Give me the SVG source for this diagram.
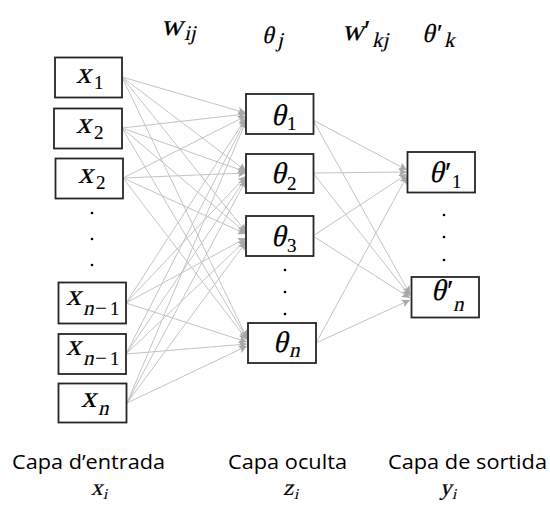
<svg xmlns="http://www.w3.org/2000/svg" width="550" height="505" viewBox="0 0 550 505">
  <defs>
    <marker id="arrow" markerUnits="userSpaceOnUse" markerWidth="10" markerHeight="10" refX="9" refY="5" orient="auto">
      <path d="M1,1 L9,5 L1,9 L2.6,5 Z" fill="#a8a8a8"/>
    </marker>
    <style>
      .box { fill: #ffffff; stroke: #262626; stroke-width: 1.8; }
      .edge { stroke: #c4c4c4; stroke-width: 1; fill: none; marker-end: url(#arrow); }
      .m { font-family: "Liberation Serif", "Times New Roman", serif; font-style: normal; font-size: 30px; fill: #000; stroke: #000; stroke-width: 0.2; }
      .s { font-family: "Liberation Serif", "Times New Roman", serif; font-style: normal; font-size: 19px; fill: #000; stroke: #000; stroke-width: 0.15; }
      .sl { font-size: 21px; }
      .it { transform: skewX(-13deg); }
      .cap { font-family: "Open Sans", "Liberation Sans", sans-serif; font-size: 20px; fill: #000; }
      .dot { fill: #000; }
    </style>
  </defs>

  <rect width="550" height="505" fill="#ffffff"/>

  <!-- weight and bias headers -->
  <g id="headers">
    <g transform="translate(161,35)">
      <text class="m it">w</text>
      <text class="s sl" transform="translate(23,5) skewX(-13)">ij</text>
    </g>
    <g transform="translate(262,43)">
      <text class="m it" style="font-size:24px">θ</text>
      <text class="s sl" transform="translate(15,4) skewX(-13)">j</text>
    </g>
    <g transform="translate(342,40)">
      <text class="m it">w</text>
      <text class="m" x="22">′</text>
      <text class="s sl" transform="translate(30,7) skewX(-13)">kj</text>
    </g>
    <g transform="translate(422,42)">
      <text class="m it" style="font-size:26px">θ</text>
      <text class="m" x="15" style="font-size:26px">′</text>
      <text class="s sl" transform="translate(22,5) skewX(-13)">k</text>
    </g>
  </g>

  <!-- connectors: every input feeds every hidden unit, every hidden unit feeds every output -->
  <g id="connectors">
    <!-- from x1 -->
    <line class="edge" x1="122" y1="77" x2="246" y2="113"/>
    <line class="edge" x1="122" y1="77" x2="246" y2="171"/>
    <line class="edge" x1="122" y1="77" x2="246" y2="232"/>
    <line class="edge" x1="122" y1="77" x2="247" y2="338"/>
    <!-- from x2 -->
    <line class="edge" x1="122" y1="128" x2="246" y2="114"/>
    <line class="edge" x1="122" y1="128" x2="246" y2="172"/>
    <line class="edge" x1="122" y1="128" x2="246" y2="233"/>
    <line class="edge" x1="122" y1="128" x2="247" y2="339"/>
    <!-- from x2 (third row) -->
    <line class="edge" x1="123" y1="178" x2="246" y2="116"/>
    <line class="edge" x1="123" y1="178" x2="246" y2="173"/>
    <line class="edge" x1="123" y1="178" x2="246" y2="234"/>
    <line class="edge" x1="123" y1="178" x2="247" y2="340"/>
    <!-- from x(n-1) -->
    <line class="edge" x1="126" y1="303" x2="246" y2="118"/>
    <line class="edge" x1="126" y1="303" x2="246" y2="176"/>
    <line class="edge" x1="126" y1="303" x2="246" y2="238"/>
    <line class="edge" x1="126" y1="303" x2="247" y2="342"/>
    <!-- from x(n-1), second -->
    <line class="edge" x1="126" y1="354" x2="246" y2="119"/>
    <line class="edge" x1="126" y1="354" x2="246" y2="178"/>
    <line class="edge" x1="126" y1="354" x2="246" y2="240"/>
    <line class="edge" x1="126" y1="354" x2="247" y2="344"/>
    <!-- from xn -->
    <line class="edge" x1="127" y1="403" x2="246" y2="121"/>
    <line class="edge" x1="127" y1="403" x2="246" y2="180"/>
    <line class="edge" x1="127" y1="403" x2="246" y2="242"/>
    <line class="edge" x1="127" y1="403" x2="247" y2="346"/>
    <!-- hidden to output -->
    <line class="edge" x1="313" y1="120" x2="407" y2="170"/>
    <line class="edge" x1="313" y1="120" x2="410" y2="294"/>
    <line class="edge" x1="313" y1="173" x2="407" y2="172"/>
    <line class="edge" x1="313" y1="173" x2="410" y2="296"/>
    <line class="edge" x1="313" y1="236" x2="407" y2="174"/>
    <line class="edge" x1="313" y1="236" x2="410" y2="298"/>
    <line class="edge" x1="316" y1="343" x2="407" y2="176"/>
    <line class="edge" x1="316" y1="343" x2="410" y2="300"/>
  </g>

  <!-- input layer -->
  <g id="in-x1">
    <rect class="box" x="55" y="57.5" width="67" height="40"/>
    <g transform="translate(76,83)">
      <text class="m it">x</text>
      <text class="s" x="18" y="6">1</text>
    </g>
  </g>
  <g id="in-x2">
    <rect class="box" x="54" y="108.5" width="68" height="40"/>
    <g transform="translate(76,133)">
      <text class="m it">x</text>
      <text class="s" x="18" y="6">2</text>
    </g>
  </g>
  <g id="in-x2b">
    <rect class="box" x="55.5" y="158.5" width="67.5" height="40"/>
    <g transform="translate(78,183)">
      <text class="m it">x</text>
      <text class="s" x="18" y="6">2</text>
    </g>
  </g>
  <g id="in-dots">
    <circle class="dot" cx="92" cy="213" r="1.3"/>
    <circle class="dot" cx="92" cy="239" r="1.3"/>
    <circle class="dot" cx="92" cy="265" r="1.3"/>
  </g>
  <g id="in-xn1a">
    <rect class="box" x="58.5" y="282.5" width="67.5" height="41"/>
    <g transform="translate(66,305)">
      <text class="m it">x</text>
      <text class="s sl" transform="translate(17,10) skewX(-13)">n</text>
      <text class="s" x="29" y="10" style="font-size:21px">−</text>
      <text class="s" x="44" y="10">1</text>
    </g>
  </g>
  <g id="in-xn1b">
    <rect class="box" x="58.5" y="334" width="67.5" height="40"/>
    <g transform="translate(66,355)">
      <text class="m it">x</text>
      <text class="s sl" transform="translate(17,10) skewX(-13)">n</text>
      <text class="s" x="29" y="10" style="font-size:21px">−</text>
      <text class="s" x="44" y="10">1</text>
    </g>
  </g>
  <g id="in-xn">
    <rect class="box" x="58.5" y="383.5" width="68" height="39"/>
    <g transform="translate(81,407)">
      <text class="m it">x</text>
      <text class="s sl" transform="translate(17,8) skewX(-13)">n</text>
    </g>
  </g>

  <!-- hidden layer -->
  <g id="hid-1">
    <rect class="box" x="246" y="94" width="67.5" height="40"/>
    <g transform="translate(271,125)">
      <text class="m it">θ</text>
      <text class="s" x="16" y="5">1</text>
    </g>
  </g>
  <g id="hid-2">
    <rect class="box" x="246" y="154" width="67.5" height="39"/>
    <g transform="translate(271,183)">
      <text class="m it">θ</text>
      <text class="s" x="16" y="7">2</text>
    </g>
  </g>
  <g id="hid-3">
    <rect class="box" x="246" y="216" width="67.5" height="40"/>
    <g transform="translate(271,246)">
      <text class="m it">θ</text>
      <text class="s" x="16" y="6">3</text>
    </g>
  </g>
  <g id="hid-dots">
    <circle class="dot" cx="285" cy="270" r="1.3"/>
    <circle class="dot" cx="285" cy="292" r="1.3"/>
    <circle class="dot" cx="285" cy="314" r="1.3"/>
  </g>
  <g id="hid-n">
    <rect class="box" x="248" y="323" width="68" height="40"/>
    <g transform="translate(273,352)">
      <text class="m it">θ</text>
      <text class="s sl" transform="translate(16,5) skewX(-13)">n</text>
    </g>
  </g>

  <!-- output layer -->
  <g id="out-1">
    <rect class="box" x="407.5" y="152" width="67.5" height="40.5"/>
    <g transform="translate(429,182)">
      <text class="m it">θ</text>
      <text class="m" x="16">′</text>
      <text class="s" x="23" y="6">1</text>
    </g>
  </g>
  <g id="out-dots">
    <circle class="dot" cx="444" cy="215" r="1.3"/>
    <circle class="dot" cx="444" cy="237" r="1.3"/>
    <circle class="dot" cx="444" cy="260" r="1.3"/>
  </g>
  <g id="out-n">
    <rect class="box" x="411.5" y="277" width="67.5" height="40.5"/>
    <g transform="translate(431,300)">
      <text class="m it">θ</text>
      <text class="m" x="16">′</text>
      <text class="s sl" transform="translate(22,11) skewX(-13)">n</text>
    </g>
  </g>

  <!-- layer captions -->
  <g id="captions">
    <text class="cap" x="12" y="469" textLength="153" lengthAdjust="spacingAndGlyphs">Capa d’entrada</text>
    <g transform="translate(91,495)">
      <text class="m it" style="font-size:23px">x</text>
      <text class="s" transform="translate(12,4) skewX(-13)" style="font-size:15px">i</text>
    </g>
    <text class="cap" x="228" y="469" textLength="119" lengthAdjust="spacingAndGlyphs">Capa oculta</text>
    <g transform="translate(283,495)">
      <text class="m it" style="font-size:23px">z</text>
      <text class="s" transform="translate(11,4) skewX(-13)" style="font-size:15px">i</text>
    </g>
    <text class="cap" x="388" y="469" textLength="159" lengthAdjust="spacingAndGlyphs">Capa de sortida</text>
    <g transform="translate(440,495)">
      <text class="m it" style="font-size:23px">y</text>
      <text class="s" transform="translate(12,4) skewX(-13)" style="font-size:15px">i</text>
    </g>
  </g>
</svg>
